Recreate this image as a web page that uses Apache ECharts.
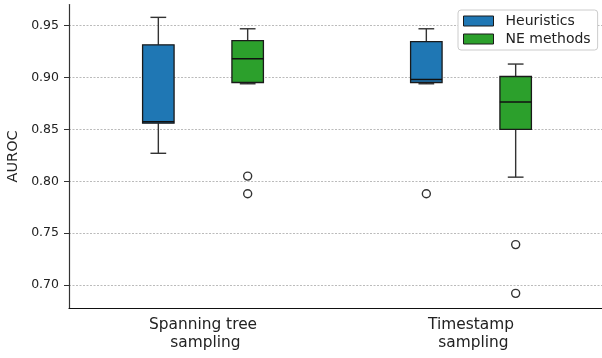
<!DOCTYPE html>
<html><head><meta charset="utf-8">
<script src="https://cdn.jsdelivr.net/npm/echarts@6/dist/echarts.min.js"></script>
<style>html,body{margin:0;padding:0;background:#fff}#c{width:602px;height:358px}</style>
</head><body><div id="c"></div>
<script>
// ---- data ----
const categories = ['Spanning tree\n sampling', 'Timestamp\n sampling'];
const seriesNames = ['Heuristics', 'NE methods'];
// [min, Q1, median, Q3, max] per category
const heuristicsBox = [[0.827, 0.856, 0.8575, 0.9315, 0.958], [0.894, 0.8952, 0.898, 0.9346, 0.947]];
const neBox = [[0.894, 0.8952, 0.918, 0.9356, 0.947], [0.804, 0.850, 0.8764, 0.901, 0.913]];
const heuristicsOutliers = [[], [0.788]];
const neOutliers = [[0.805, 0.788], [0.739, 0.692]];
const yTicks = [0.70, 0.75, 0.80, 0.85, 0.90, 0.95];
const yMin = 0.6777, yMax = 0.9703;

// ---- style ----
const colors = ['#1f77b4', '#2ca02c'];
const OFFSET_FRAC = [-1 / 6, 1 / 6];
const BOX_FRAC = 0.1175;
const FONT = 'DejaVu Sans';

function boxData(arr) { return arr.map((b, i) => [i].concat(b)); }
function outlierData(arr) { const out = []; arr.forEach((vals, i) => vals.forEach(v => out.push([i, v]))); return out; }

function makeBoxRender(k) {
  return function (params, api) {
    const ci = api.value(0);
    const band = api.size([1, 0])[0];
    const cx = api.coord([ci, api.value(1)])[0] + band * OFFSET_FRAC[k];
    const y = [1, 2, 3, 4, 5].map(d => api.coord([ci, api.value(d)])[1]);
    const hw = band * BOX_FRAC / 2, cw = hw / 2;
    const ls = { stroke: '#333', lineWidth: 1.4 };
    return { type: 'group', children: [
      { type: 'line', shape: { x1: cx, y1: y[0], x2: cx, y2: y[1] }, style: ls },
      { type: 'line', shape: { x1: cx, y1: y[3], x2: cx, y2: y[4] }, style: ls },
      { type: 'line', shape: { x1: cx - cw, y1: y[0], x2: cx + cw, y2: y[0] }, style: ls },
      { type: 'line', shape: { x1: cx - cw, y1: y[4], x2: cx + cw, y2: y[4] }, style: ls },
      { type: 'rect', shape: { x: cx - hw, y: y[3], width: 2 * hw, height: y[1] - y[3] }, style: { fill: colors[k], stroke: '#1a1a1a', lineWidth: 1.3 } },
      { type: 'line', shape: { x1: cx - hw, y1: y[2], x2: cx + hw, y2: y[2] }, style: { stroke: '#111', lineWidth: 1.5 } }
    ] };
  };
}
function makeOutlierRender(k) {
  return function (params, api) {
    const ci = api.value(0);
    const band = api.size([1, 0])[0];
    const p = api.coord([ci, api.value(1)]);
    return { type: 'circle', shape: { cx: p[0] + band * OFFSET_FRAC[k], cy: p[1], r: 4 }, style: { fill: 'none', stroke: '#333', lineWidth: 1.4 } };
  };
}

const chart = echarts.init(document.getElementById('c'), null, { renderer: 'canvas' });
chart.setOption({
  animation: false,
  backgroundColor: '#fff',
  grid: { left: 69, right: -3, top: 4.6, bottom: 49.8, containLabel: false, outerBoundsMode: 'none' },
  legend: {
    orient: 'vertical', left: 458, top: 10,
    padding: [4, 7, 4, 5], itemWidth: 30, itemHeight: 10, itemGap: 4,
    backgroundColor: '#fff', borderColor: '#cccccc', borderWidth: 1, borderRadius: 3,
    textStyle: { fontSize: 14, fontFamily: FONT, color: '#222', padding: [0, 0, 0, 7] },
    data: seriesNames.map((n, k) => ({ name: n, icon: 'rect', itemStyle: { color: colors[k], borderColor: '#1a1a1a', borderWidth: 1 } }))
  },
  xAxis: {
    type: 'category', data: categories, boundaryGap: true,
    axisLine: { show: true, lineStyle: { color: '#111', width: 1.2 } },
    axisTick: { show: false },
    axisLabel: { fontSize: 15.4, lineHeight: 18, margin: 8, color: '#222', fontFamily: FONT },
    splitLine: { show: false }
  },
  yAxis: {
    type: 'value', min: yMin, max: yMax,
    name: 'AUROC', nameLocation: 'middle', nameGap: 46,
    nameTextStyle: { fontSize: 14.5, color: '#222', fontFamily: FONT },
    axisLine: { show: true, onZero: false, lineStyle: { color: '#333', width: 1.2 } },
    axisTick: { show: true, length: 5, customValues: yTicks, lineStyle: { color: '#333' } },
    axisLabel: { customValues: yTicks, margin: 10, fontSize: 12.5, color: '#222', fontFamily: FONT, formatter: v => v.toFixed(2) },
    splitLine: { show: true, lineStyle: { color: '#aaaaaa', width: 0.8, type: [2, 1.5] } }
  },
  series: [
    { name: seriesNames[0], type: 'custom', renderItem: makeBoxRender(0), data: boxData(heuristicsBox), encode: { x: 0, y: [1, 2, 3, 4, 5] }, itemStyle: { color: colors[0] }, z: 3 },
    { name: seriesNames[1], type: 'custom', renderItem: makeBoxRender(1), data: boxData(neBox), encode: { x: 0, y: [1, 2, 3, 4, 5] }, itemStyle: { color: colors[1] }, z: 3 },
    { name: seriesNames[0] + ' outliers', type: 'custom', renderItem: makeOutlierRender(0), data: outlierData(heuristicsOutliers), encode: { x: 0, y: 1 }, z: 3 },
    { name: seriesNames[1] + ' outliers', type: 'custom', renderItem: makeOutlierRender(1), data: outlierData(neOutliers), encode: { x: 0, y: 1 }, z: 3 }
  ]
});
</script></body></html>
